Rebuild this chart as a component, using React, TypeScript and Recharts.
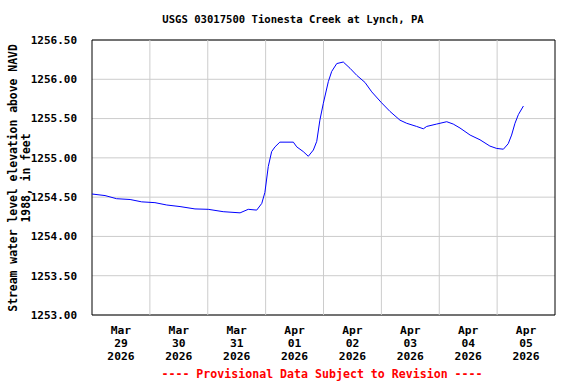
import React from "react";
import { LineChart, Line, XAxis, YAxis, CartesianGrid, ReferenceLine, ReferenceArea } from "recharts";

// hours since 2026-03-29 00:00
const hours = [0, 5.4, 10.2, 15.8, 20.6, 26.1, 31.0, 36.5, 42.7, 48.2, 54.4, 61.4, 64.8, 68.3, 70.4, 71.7, 73.1, 74.5, 75.9, 77.9, 83.5, 84.9, 87.6, 89.7, 91.8, 93.2, 94.5, 95.9, 98.0, 99.4, 101.5, 104.2, 107.0, 109.8, 113.2, 116.0, 120.1, 123.6, 127.7, 130.5, 134.6, 137.4, 138.8, 142.9, 147.1, 149.8, 152.6, 156.8, 160.9, 165.0, 167.8, 170.6, 172.6, 174.0, 175.4, 176.8, 178.9];
const elevation = [1254.54, 1254.52, 1254.48, 1254.47, 1254.44, 1254.43, 1254.40, 1254.38, 1254.35, 1254.345, 1254.315, 1254.30, 1254.345, 1254.335, 1254.42, 1254.56, 1254.89, 1255.08, 1255.14, 1255.20, 1255.20, 1255.14, 1255.08, 1255.02, 1255.10, 1255.21, 1255.48, 1255.69, 1255.97, 1256.10, 1256.20, 1256.22, 1256.14, 1256.05, 1255.96, 1255.84, 1255.70, 1255.59, 1255.48, 1255.44, 1255.40, 1255.37, 1255.40, 1255.43, 1255.46, 1255.43, 1255.38, 1255.29, 1255.23, 1255.15, 1255.12, 1255.11, 1255.18, 1255.29, 1255.44, 1255.55, 1255.66];

const dayLabelHours = [12, 36, 60, 84, 108, 132, 156, 180];
const dayMonths = ["Mar", "Mar", "Mar", "Apr", "Apr", "Apr", "Apr", "Apr"];
const dayNumbers = ["29", "30", "31", "01", "02", "03", "04", "05"];
const dayYears = ["2026", "2026", "2026", "2026", "2026", "2026", "2026", "2026"];
const midnightHours = [24, 48, 72, 96, 120, 144, 168];
const yTicks = [1253, 1253.5, 1254, 1254.5, 1255, 1255.5, 1256, 1256.5];

const title = "USGS 03017500 Tionesta Creek at Lynch, PA";
const yLabel1 = "Stream water level elevation above NAVD";
const yLabel2 = "1988, in feet";
const footer = "---- Provisional Data Subject to Revision ----";

const data = hours.map((h, i) => ({ h, v: elevation[i] }));
const FONT = "'DejaVu Sans Mono', 'Liberation Mono', monospace";

const XTick = (props: any) => {
  const { x, y, payload } = props;
  const i = dayLabelHours.indexOf(payload.value);
  return (
    <text x={x} y={y} textAnchor="middle" fontFamily={FONT} fontWeight="bold" fontSize={11.3} fill="#000">
      <tspan x={x} dy={11}>{dayMonths[i]}</tspan>
      <tspan x={x} dy={13}>{dayNumbers[i]}</tspan>
      <tspan x={x} dy={13}>{dayYears[i]}</tspan>
    </text>
  );
};

export default function App() {
  return (
    <div style={{ position: "absolute", left: 0, top: 0, width: 576, height: 384, background: "#fff" }}>
      <LineChart width={576} height={384} data={data} margin={{ top: 40, right: 21, bottom: 19, left: 0 }}>
        <CartesianGrid vertical={false} stroke="#cccccc" strokeWidth={1} />
        {midnightHours.map((m) => (
          <ReferenceLine key={m} x={m} stroke="#cccccc" strokeWidth={1} />
        ))}
        <XAxis
          dataKey="h"
          type="number"
          domain={[0, 192]}
          ticks={dayLabelHours}
          interval={0}
          height={50}
          axisLine={false}
          tickLine={false}
          tick={<XTick />}
        />
        <YAxis
          type="number"
          domain={[1253, 1256.5]}
          ticks={yTicks}
          interval={0}
          width={92}
          axisLine={false}
          tickLine={false}
          tickSize={13}
          tickMargin={2}
          tickFormatter={(v: number) => v.toFixed(2)}
          tick={{ fill: "#000", fontFamily: FONT, fontWeight: "bold", fontSize: 11 }}
        />
        <ReferenceArea x1={0} x2={192} y1={1253} y2={1256.5} fill="none" stroke="#000" strokeWidth={1} />
        <Line type="linear" dataKey="v" stroke="#0000ff" strokeWidth={1} dot={false} isAnimationActive={false} />
      </LineChart>
      <svg width={576} height={384} style={{ position: "absolute", left: 0, top: 0, pointerEvents: "none" }}>
        <text x={293} y={23} textAnchor="middle" fontFamily={FONT} fontWeight="bold" fontSize={10.6} fill="#000">{title}</text>
        <text x={13} y={178} textAnchor="middle" dominantBaseline="central" transform="rotate(-90, 13, 178)" fontFamily={FONT} fontWeight="bold" fontSize={11.4} fill="#000">{yLabel1}</text>
        <text x={26} y={178} textAnchor="middle" dominantBaseline="central" transform="rotate(-90, 26, 178)" fontFamily={FONT} fontWeight="bold" fontSize={11.4} fill="#000">{yLabel2}</text>
        <text x={322} y={378} textAnchor="middle" fontFamily={FONT} fontWeight="bold" fontSize={11.6} fill="#ff0000">{footer}</text>
      </svg>
    </div>
  );
}
